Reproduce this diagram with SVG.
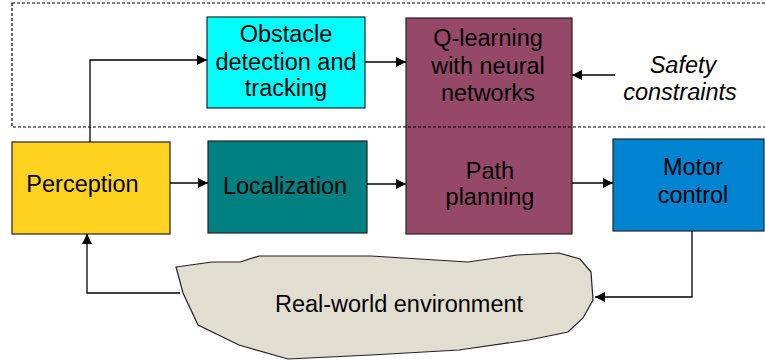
<svg xmlns="http://www.w3.org/2000/svg" width="765" height="363" viewBox="0 0 765 363">
<style>
  .box { stroke: #222; stroke-width: 1.2; }
  .lbl { font-family: "Liberation Sans", Arial, sans-serif; font-size: 23.5px; fill: #000; text-anchor: middle; }
  .ital { font-style: italic; }
  .conn { fill: none; stroke: #000; stroke-width: 1.3; }
  .frame { fill: none; stroke: #000; stroke-width: 1.2; stroke-dasharray: 3 2; }
</style>
<defs>
  <marker id="arrow" viewBox="0 0 10 10" refX="10" refY="5" markerWidth="10" markerHeight="10" markerUnits="userSpaceOnUse" orient="auto">
    <path d="M0,0 L10,5 L0,10 Z" fill="#000"/>
  </marker>
</defs>
<rect width="765" height="363" fill="#fff"/>

<g id="environment">
  <path d="M176,267 L212,262 L240,262 L259,256 L371,256 L468,262 L517,255 L559,253 L580,259 L591,272 L593,300 L583,318 L568,332 L529,340 L459,350 L371,355 L288,359 L239,345 L198,325 L183,293 Z" fill="#E2DDD1" stroke="#222" stroke-width="1.2"/>
  <text class="lbl" x="399" y="312">Real-world environment</text>
</g>

<g id="obstacle">
  <rect class="box" x="207" y="17" width="158" height="91" fill="#00FFFF"/>
  <text class="lbl" x="286" y="42">Obstacle</text>
  <text class="lbl" x="286" y="70">detection and</text>
  <text class="lbl" x="286" y="96">tracking</text>
</g>

<g id="qlearning-path">
  <rect class="box" x="406" y="18" width="166" height="216" fill="#954868"/>
  <text class="lbl" x="488" y="46">Q-learning</text>
  <text class="lbl" x="488" y="74">with neural</text>
  <text class="lbl" x="488" y="101">networks</text>
  <text class="lbl" x="490" y="179">Path</text>
  <text class="lbl" x="490" y="205">planning</text>
</g>

<g id="safety">
  <text class="lbl ital" x="683" y="73">Safety</text>
  <text class="lbl ital" x="680" y="100">constraints</text>
</g>

<g id="perception">
  <rect class="box" x="12" y="142" width="158" height="92" fill="#FFD320"/>
  <text class="lbl" x="82.5" y="192">Perception</text>
</g>

<g id="localization">
  <rect class="box" x="208" y="141" width="159" height="92" fill="#008080"/>
  <text class="lbl" x="285" y="194">Localization</text>
</g>

<g id="motor">
  <rect class="box" x="613" y="139" width="151" height="92" fill="#0084D1"/>
  <text class="lbl" x="693" y="175">Motor</text>
  <text class="lbl" x="693" y="203">control</text>
</g>

<rect class="frame" x="12" y="3" width="770" height="124"/>

<g id="connectors">
  <path class="conn" d="M90,142 V60 H207" marker-end="url(#arrow)"/>
  <path class="conn" d="M365,62 H406" marker-end="url(#arrow)"/>
  <path class="conn" d="M615,75 H572" marker-end="url(#arrow)"/>
  <path class="conn" d="M170,183 H208" marker-end="url(#arrow)"/>
  <path class="conn" d="M367,184 H406" marker-end="url(#arrow)"/>
  <path class="conn" d="M572,183 H613" marker-end="url(#arrow)"/>
  <path class="conn" d="M692,231 V297 H595" marker-end="url(#arrow)"/>
  <path class="conn" d="M180,293 H87 V234" marker-end="url(#arrow)"/>
</g>
</svg>
